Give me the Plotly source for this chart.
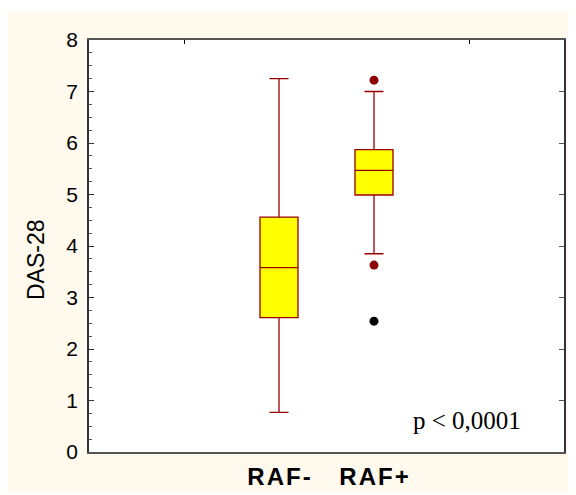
import plotly.graph_objects as go

categories = ["R\u200aA\u200aF\u200a-", "R\u200aA\u200aF\u200a+"]
cat_pos = [1, 2]
q1 = [2.61, 4.99]
median = [3.58, 5.47]
q3 = [4.56, 5.87]
lower_whisker = [0.77, 3.85]
upper_whisker = [7.25, 7.0]
outlier_x = [2, 2]
outlier_y = [7.22, 3.63]
extreme_x = [2]
extreme_y = [2.54]
y_ticks = [0, 1, 2, 3, 4, 5, 6, 7, 8]
y_title = "DAS-28"
p_text = "p < 0,0001"

OFF = 8  # page body margin
W, H = 576 - OFF, 495 - OFF
ML, MT = 89 - OFF, 40 - OFF
MR = W - (564 - OFF)
MB = H - (452 - OFF)
PW, PH = W - ML - MR, H - MT - MB

fig = go.Figure()
fig.add_trace(go.Box(
    x=cat_pos, q1=q1, median=median, q3=q3,
    lowerfence=lower_whisker, upperfence=upper_whisker,
    width=0.4, whiskerwidth=0.5,
    fillcolor="#FFFF00", line=dict(color="#990000", width=1.3),
    boxpoints=False, showlegend=False, hoverinfo="skip",
))
fig.add_trace(go.Scatter(
    x=outlier_x, y=outlier_y, mode="markers",
    marker=dict(color="#8B0000", size=9), showlegend=False,
))
fig.add_trace(go.Scatter(
    x=extreme_x, y=extreme_y, mode="markers",
    marker=dict(color="black", size=9), showlegend=False,
))

def px(xp):
    return (xp - OFF - ML) / PW

def py(yp):
    return 1 - (yp - OFF - MT) / PH

shapes = [
    dict(type="rect", xref="paper", yref="paper", x0=px(0), x1=px(576), y0=py(11), y1=py(0),
         fillcolor="white", line=dict(width=0), layer="below"),
    dict(type="rect", xref="paper", yref="paper", x0=px(0), x1=px(576), y0=py(495), y1=py(493),
         fillcolor="white", line=dict(width=0), layer="below"),
]

fig.update_layout(
    width=W, height=H,
    margin=dict(l=ML, r=MR, t=MT, b=MB, pad=0),
    paper_bgcolor="#FFF9EE",
    plot_bgcolor="white",
    shapes=shapes,
    font=dict(family="Liberation Sans, Arial", color="black"),
    xaxis=dict(
        range=[-1, 4], tickvals=cat_pos, ticktext=categories, automargin=False,
        ticks="", showline=True, linecolor="#555555", linewidth=1.5, mirror=True,
        showgrid=False, zeroline=False, ticklabelstandoff=2,
        tickfont=dict(size=24, family="Liberation Sans, Arial", weight="bold"),
    ),
    xaxis2=dict(
        range=[-1, 4], overlaying="x", side="top", anchor="y", automargin=False,
        tickvals=[0, 3], ticks="inside", ticklen=4, tickcolor="black",
        showticklabels=False, showgrid=False, zeroline=False, showline=False,
    ),
    yaxis=dict(
        range=[0, 8], tickvals=y_ticks, ticks="inside", ticklen=5, tickcolor="#333333",
        minor=dict(dtick=0.25, ticks="inside", ticklen=3, tickcolor="#555555"),
        showline=True, linecolor="#333333", linewidth=1.5, mirror=True,
        showgrid=False, zeroline=False, automargin=False,
        tickfont=dict(size=21), ticklabelstandoff=5,
    ),
    yaxis2=dict(
        range=[0, 8], overlaying="y", side="right", anchor="x", automargin=False,
        tickvals=y_ticks, ticks="inside", ticklen=5, tickcolor="#555555",
        showticklabels=False, showgrid=False, zeroline=False, showline=False,
    ),
    annotations=[
        dict(
            text=p_text, xref="paper", yref="paper", x=px(467), y=py(420),
            xanchor="center", yanchor="middle", showarrow=False,
            font=dict(family="Liberation Serif, Times New Roman", size=25, color="black"),
        ),
        dict(
            text=y_title, xref="paper", yref="paper", x=px(36), y=py(260),
            xanchor="center", yanchor="middle", showarrow=False, textangle=-90,
            font=dict(family="Liberation Sans, Arial", size=23, color="black"),
        ),
    ],
)
fig.add_trace(go.Scatter(x=[None], y=[None], xaxis="x2", yaxis="y2", showlegend=False))

fig.write_html("out.html")
